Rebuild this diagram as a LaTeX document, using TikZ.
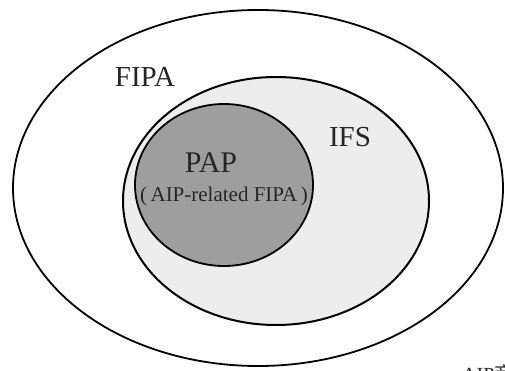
\documentclass[tikz,border=0pt]{standalone}
\usepackage{fontspec}
\setmainfont{Liberation Serif}
\newfontfamily\cjk{Noto Sans CJK SC}
\begin{document}
\begin{tikzpicture}[x=1pt,y=-1pt,
  setline/.style={draw=black},
  lbl/.style={inner sep=0pt, text=black!85},
]
\useasboundingbox (0,0) rectangle (505,371);
\fill[white] (0,0) rectangle (505,371);
% FIPA outer ellipse
\draw[setline, line width=1.8pt, fill=white] (258,188) ellipse [x radius=245, y radius=178];
% IFS ellipse
\draw[setline, line width=2pt, fill=black!7] (276,201) ellipse [x radius=153, y radius=124];
% PAP circle
\draw[setline, line width=1.8pt, fill=black!38] (224,185) ellipse [x radius=89, y radius=81];
% labels
\node[lbl, font=\fontsize{29}{30}\selectfont] (fipa) at (145,77) {FIPA};
\node[lbl, font=\fontsize{29}{30}\selectfont] (ifs) at (350,137) {IFS};
\node[lbl, font=\fontsize{30}{31}\selectfont] (pap) at (211,163) {PAP};
\node[lbl, font=\fontsize{21}{22}\selectfont] (papsub) at (224,196) {(\,AIP-related FIPA\,)};
\node[lbl, anchor=north west, font=\fontsize{20}{21}\selectfont] (note) at (462,364) {AIP{\cjk 商界}};
\end{tikzpicture}
\end{document}
